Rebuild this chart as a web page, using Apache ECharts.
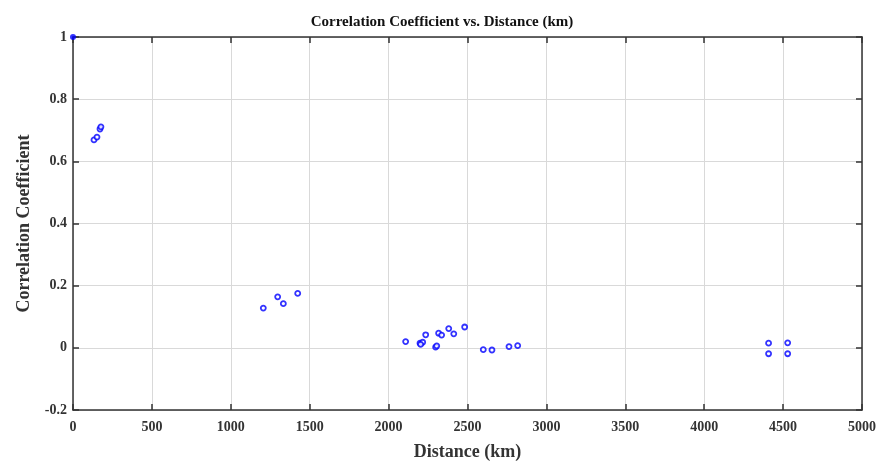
<!DOCTYPE html>
<html><head><meta charset="utf-8">
<script src="https://cdn.jsdelivr.net/npm/echarts@6/dist/echarts.min.js"></script>
<style>html,body{margin:0;padding:0;background:#fff}#c{width:882px;height:464px}</style>
</head><body><div id="c"></div>
<script>
const distance = [133,152,171,177,1206,1297,1333,1424,2108,2199,2216,2203,2235,2298,2305,2317,2336,2381,2413,2482,2600,2655,2763,2818,4408,4529,4408,4529];
const corr = [0.669,0.678,0.704,0.711,0.128,0.164,0.142,0.175,0.020,0.015,0.018,0.011,0.042,0.002,0.006,0.047,0.041,0.062,0.045,0.067,-0.006,-0.007,0.004,0.007,0.015,0.016,-0.019,-0.019];
const selfPoint = [[0, 1]];
const xTicks = [0,500,1000,1500,2000,2500,3000,3500,4000,4500,5000];
const yTicks = [-0.2,0,0.2,0.4,0.6,0.8,1];

const font = "'Liberation Serif', 'DejaVu Serif', serif";
const chart = echarts.init(document.getElementById('c'));
const axisLine = {show:true, onZero:false, lineStyle:{color:'#333', width:1.5}};
const tick = {show:true, inside:true, length:6, lineStyle:{color:'#333', width:1.5}};
chart.setOption({
  animation:false,
  title:{text:'Correlation Coefficient vs. Distance (km)', left:437, top:10, textAlign:'center',
    textStyle:{fontFamily:font, fontWeight:'bold', fontSize:15, color:'#111'}},
  grid:{left:73, right:20, top:37, bottom:54, outerBoundsMode:'none', containLabel:false},
  xAxis:[{type:'value', min:xTicks[0], max:xTicks[xTicks.length-1], interval:500,
    name:'Distance (km)', nameLocation:'middle', nameGap:33,
    nameTextStyle:{fontFamily:font, fontWeight:'bold', fontSize:18, color:'#333'},
    axisLine, axisTick:tick,
    axisLabel:{fontFamily:font, fontWeight:'bold', fontSize:14, color:'#333', margin:10,
      formatter:v=>String(v)},
    splitLine:{show:true, lineStyle:{color:'#d9d9d9', width:1}}},
    {type:'value', position:'top', min:xTicks[0], max:xTicks[xTicks.length-1], interval:500, axisLine, axisTick:tick,
    axisLabel:{show:false}, splitLine:{show:false}}],
  yAxis:[{type:'value', min:yTicks[0], max:yTicks[yTicks.length-1], interval:0.2,
    name:'Correlation Coefficient', nameLocation:'middle', nameGap:40,
    nameTextStyle:{fontFamily:font, fontWeight:'bold', fontSize:18, color:'#333'},
    axisLine, axisTick:tick,
    axisLabel:{fontFamily:font, fontWeight:'bold', fontSize:14, color:'#333', margin:6,
      formatter:v=>String(Math.round(v*10)/10)},
    splitLine:{show:true, lineStyle:{color:'#d9d9d9', width:1}}},
    {type:'value', position:'right', min:yTicks[0], max:yTicks[yTicks.length-1], interval:0.2, axisLine, axisTick:tick,
    axisLabel:{show:false}, splitLine:{show:false}}],
  series:[
    {type:'scatter', data:distance.map((d,i)=>[d,corr[i]]), symbol:'circle', symbolSize:5,
      itemStyle:{color:'#fff', borderColor:'#0000ff', borderWidth:1.8}, z:5},
    {type:'scatter', data:selfPoint, symbol:'circle', symbolSize:6,
      itemStyle:{color:'#0000ff'}, z:6, clip:false}
  ]
});
</script></body></html>
